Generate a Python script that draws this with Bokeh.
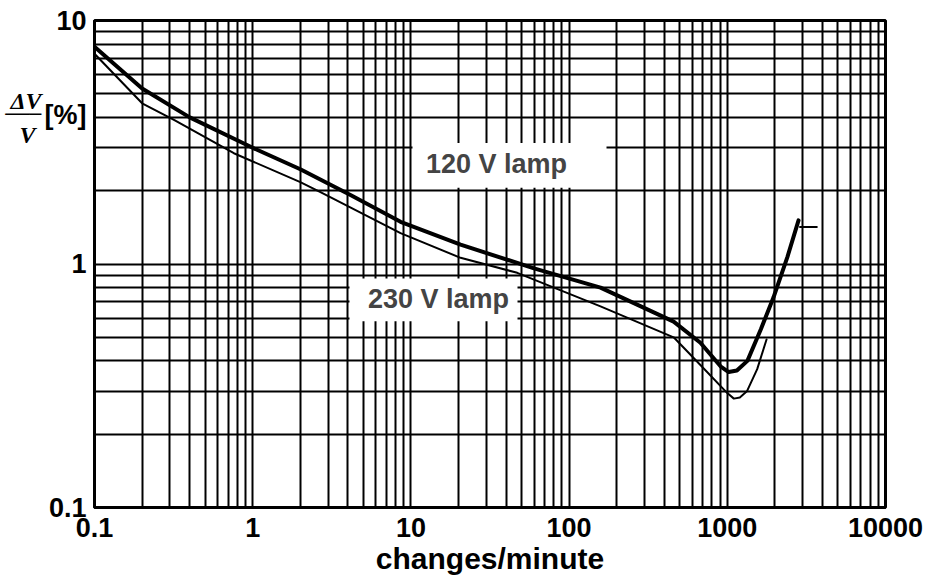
from bokeh.plotting import figure
from bokeh.models import Range1d, FixedTicker, Label, LogAxis, BoxAnnotation
from bokeh.embed import file_html
from bokeh.resources import INLINE

# ---- data ----
freq_120 = [0.1, 0.2, 0.4, 1.0, 2.0, 4.15, 8.6, 20.6, 60, 158, 458, 676, 906, 1020, 1150, 1340, 1630, 1960, 2400, 2820]
dv_120 = [7.8, 5.26, 4.0, 3.0, 2.45, 1.92, 1.49, 1.2, 0.96, 0.80, 0.58, 0.475, 0.38, 0.36, 0.365, 0.40, 0.54, 0.73, 1.07, 1.51]

freq_230 = [0.1, 0.2, 0.32, 0.76, 2.0, 2.7, 8.6, 20.6, 47, 158, 458, 676, 1000, 1100, 1200, 1330, 1545, 1770]
dv_230 = [7.3, 4.57, 3.9, 2.85, 2.17, 1.97, 1.34, 1.06, 0.92, 0.67, 0.50, 0.385, 0.295, 0.28, 0.283, 0.30, 0.37, 0.49]

mark_freq = [2850, 3720]
mark_dv = [1.42, 1.42]

x_ticks = [0.1, 1, 10, 100, 1000, 10000]
x_tick_labels = ["0.1", "1", "10", "100", "1000", "10000"]
y_ticks = [0.1, 1, 10]
y_tick_labels = ["0.1", "1", "10"]
minor_steps = [2, 3, 4, 5, 6, 7, 8, 9]

x_title = "changes/minute"
y_title_parts = ["\u0394V", "\u2014\u2013", "V\u00a0"]
y_unit = "[%]"
series_labels = ["120 V lamp", "230 V lamp"]

x_minor = [d * m for d in x_ticks[:-1] for m in minor_steps]
y_minor = [d * m for d in y_ticks[:-1] for m in minor_steps]

# frame geometry in page pixels (used only to place texts and label boxes)
FL, FT, DX, DY = 94, 20, 791 / 5, 489 / 2


def data_x(px):
    return 10 ** ((px - FL) / DX - 1)


def data_y(py):
    return 10 ** ((FT + 2 * DY - py) / DY - 1)


p = figure(width=939, height=577, x_axis_type="log", y_axis_type="log",
           x_range=Range1d(0.1, 10000), y_range=Range1d(0.1, 10),
           output_backend="svg", toolbar_location=None,
           min_border_left=94, min_border_right=54, min_border_top=20, min_border_bottom=68)

p.background_fill_color = "white"
p.border_fill_color = "white"
p.outline_line_color = "black"
p.outline_line_width = 3

SANS = "Liberation Sans"
SERIF = "Liberation Serif"

# x axis
p.xaxis.ticker = FixedTicker(ticks=x_ticks, minor_ticks=x_minor)
p.xaxis.major_label_overrides = dict(zip(x_ticks, x_tick_labels))
p.xaxis.major_label_standoff = 10
p.xaxis.axis_label = x_title
p.xaxis.axis_label_standoff = 2
p.xaxis.axis_label_text_font = SANS
p.xaxis.axis_label_text_font_style = "bold"
p.xaxis.axis_label_text_font_size = "30px"
p.xaxis.axis_label_text_color = "black"

# y axis: numbers plus the unit "[%]"
unit_pos = data_y(115)
p.yaxis.ticker = FixedTicker(ticks=y_ticks + [unit_pos], minor_ticks=y_minor)
ovr = dict(zip(y_ticks, y_tick_labels))
ovr[unit_pos] = y_unit
p.yaxis.major_label_overrides = ovr
p.yaxis.major_label_standoff = 8

for ax in (p.xaxis, p.yaxis):
    ax.axis_line_width = 3
    ax.axis_line_color = "black"
    ax.major_tick_line_color = None
    ax.minor_tick_line_color = None
    ax.major_tick_out = 0
    ax.minor_tick_out = 0
    ax.major_tick_in = 0
    ax.minor_tick_in = 0
    ax.major_label_text_font = SANS
    ax.major_label_text_font_style = "bold"
    ax.major_label_text_font_size = "27px"
    ax.major_label_text_color = "black"

# outer left axis carrying the fraction  dV / V
frac_pos = [data_y(101), data_y(112), data_y(135)]
frac_axis = LogAxis(ticker=FixedTicker(ticks=frac_pos, minor_ticks=[]),
                    major_label_overrides=dict(zip(frac_pos, y_title_parts)),
                    axis_line_color=None, major_tick_line_color=None, minor_tick_line_color=None,
                    major_tick_out=0, minor_tick_out=0, major_tick_in=0, minor_tick_in=0,
                    major_label_standoff=0,
                    major_label_text_font=SERIF, major_label_text_font_style="bold italic",
                    major_label_text_font_size="24px", major_label_text_color="black")
p.add_layout(frac_axis, "left")

# grids (decade lines and 2..9 lines)
p.xgrid.ticker = FixedTicker(ticks=x_ticks, minor_ticks=x_minor)
p.ygrid.ticker = FixedTicker(ticks=y_ticks, minor_ticks=y_minor)
for g in (p.xgrid, p.ygrid):
    g.grid_line_color = "black"
    g.grid_line_width = 2
    g.grid_line_alpha = 1
    g.minor_grid_line_color = "black"
    g.minor_grid_line_width = 2
    g.minor_grid_line_alpha = 1

p.line(freq_120, dv_120, line_color="black", line_width=4, line_join="round", line_cap="round")
p.line(freq_230, dv_230, line_color="black", line_width=2, line_join="round", line_cap="round")
p.line(mark_freq, mark_dv, line_color="black", line_width=2)

# white boxes behind the curve labels
p.add_layout(BoxAnnotation(left=data_x(412), right=data_x(606), top=data_y(143), bottom=data_y(188),
                           fill_color="white", fill_alpha=1, line_color=None))
p.add_layout(BoxAnnotation(left=data_x(349), right=data_x(517), top=data_y(279), bottom=data_y(322),
                           fill_color="white", fill_alpha=1, line_color=None))

p.add_layout(Label(x=data_x(496), y=data_y(164), text=series_labels[0],
                   text_align="center", text_baseline="middle",
                   text_font=SANS, text_font_style="bold", text_font_size="27px"))
p.add_layout(Label(x=data_x(438), y=data_y(300), text=series_labels[1],
                   text_align="center", text_baseline="middle",
                   text_font=SANS, text_font_style="bold", text_font_size="27px"))

open("out.html", "w").write(file_html(p, INLINE))
